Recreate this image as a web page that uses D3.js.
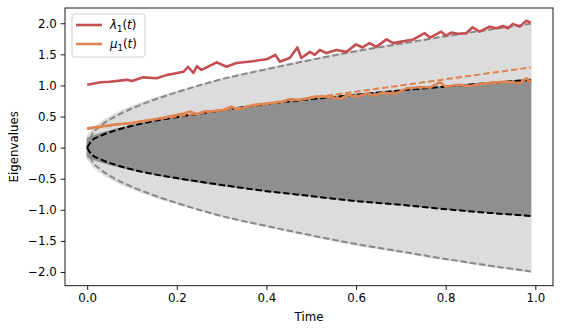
<!DOCTYPE html>
<html>
<head>
<meta charset="utf-8">
<script src="https://cdn.jsdelivr.net/npm/d3@7"></script>
<style>
  body { margin: 0; background: #fff; }
  svg { display: block; font-family: "DejaVu Sans", sans-serif; }
</style>
</head>
<body>
<div id="chart"></div>
<script>
// Time grid for the eigenvalue band and the smooth edge curves
const bandT = [0, 0.01, 0.03, 0.06, 0.1, 0.15, 0.2, 0.3, 0.4, 0.5, 0.6, 0.7, 0.8, 0.9, 0.99];
// Light gray band (all eigenvalue paths)
const lightUpper = [0.17, 0.27, 0.40, 0.53, 0.66, 0.79, 0.90, 1.10, 1.27, 1.42, 1.56, 1.68, 1.80, 1.90, 1.97];
const lightLower = [-0.17, -0.27, -0.40, -0.53, -0.66, -0.79, -0.90, -1.10, -1.27, -1.42, -1.56, -1.68, -1.80, -1.91, -2.00];
// Dark gray band (inner paths)
const darkUpper = [0.15, 0.18, 0.23, 0.29, 0.36, 0.43, 0.50, 0.61, 0.70, 0.78, 0.86, 0.92, 0.99, 1.05, 1.10];
const darkLower = [-0.15, -0.18, -0.23, -0.29, -0.36, -0.43, -0.50, -0.61, -0.70, -0.78, -0.86, -0.92, -0.99, -1.05, -1.10];
// Gray dashed outer edge and black dashed inner edge
const outerEdgeUp = [0, 0.20, 0.35, 0.49, 0.63, 0.77, 0.89, 1.10, 1.26, 1.41, 1.55, 1.67, 1.79, 1.90, 1.99];
const outerEdgeDown = [0, -0.20, -0.35, -0.49, -0.63, -0.77, -0.89, -1.10, -1.26, -1.41, -1.55, -1.67, -1.79, -1.90, -1.99];
const innerEdgeUp = [0, 0.11, 0.19, 0.27, 0.35, 0.43, 0.49, 0.60, 0.70, 0.78, 0.85, 0.92, 0.98, 1.04, 1.09];
const innerEdgeDown = [0, -0.11, -0.19, -0.27, -0.35, -0.43, -0.49, -0.60, -0.70, -0.78, -0.86, -0.92, -0.99, -1.05, -1.10];

// lambda_1(t): top eigenvalue (red)
const lambdaT = [0, 0.03, 0.05, 0.088, 0.1, 0.125, 0.155, 0.178, 0.19, 0.215, 0.225, 0.237, 0.245, 0.255, 0.289, 0.311,
  0.333, 0.37, 0.40, 0.42, 0.43, 0.452, 0.469, 0.478, 0.497, 0.508, 0.519, 0.534, 0.556, 0.579, 0.60, 0.614, 0.63,
  0.645, 0.668, 0.683, 0.698, 0.728, 0.753, 0.765, 0.79, 0.80, 0.813, 0.827, 0.846, 0.86, 0.876, 0.898, 0.913,
  0.928, 0.939, 0.95, 0.965, 0.98, 0.99];
const lambdaV = [1.01, 1.05, 1.06, 1.09, 1.07, 1.13, 1.115, 1.17, 1.185, 1.22, 1.30, 1.20, 1.31, 1.25, 1.37, 1.30,
  1.36, 1.39, 1.42, 1.49, 1.38, 1.44, 1.61, 1.44, 1.54, 1.49, 1.57, 1.52, 1.57, 1.54, 1.66, 1.61, 1.68,
  1.62, 1.74, 1.68, 1.70, 1.74, 1.84, 1.77, 1.865, 1.80, 1.85, 1.83, 1.84, 1.935, 1.865, 1.945, 1.92,
  1.955, 1.92, 1.99, 1.945, 2.04, 2.01];

// mu_1(t): top eigenvalue of the inner block (orange)
const muT = [0, 0.03, 0.066, 0.096, 0.118, 0.14, 0.17, 0.2, 0.215, 0.23, 0.245, 0.26, 0.282, 0.304, 0.322, 0.333,
  0.345, 0.37, 0.40, 0.436, 0.452, 0.474, 0.51, 0.54, 0.564, 0.582, 0.60, 0.627, 0.638, 0.66, 0.683, 0.698,
  0.713, 0.742, 0.765, 0.787, 0.80, 0.83, 0.853, 0.876, 0.905, 0.935, 0.965, 0.98, 0.99];
const muV = [0.31, 0.34, 0.375, 0.39, 0.42, 0.445, 0.48, 0.525, 0.55, 0.58, 0.535, 0.58, 0.59, 0.605, 0.66, 0.615,
  0.63, 0.685, 0.71, 0.74, 0.78, 0.765, 0.82, 0.82, 0.78, 0.85, 0.82, 0.875, 0.835, 0.885, 0.865, 0.90,
  0.955, 0.97, 0.97, 1.05, 0.98, 1.01, 0.99, 1.02, 1.045, 1.06, 1.035, 1.115, 1.045];
// Orange dashed trend for mu_1
const muTrendT = [0, 0.99];
const muTrendV = [0.30, 1.29];

const xTicks = [0, 0.2, 0.4, 0.6, 0.8, 1.0];
const yTicks = [-2, -1.5, -1, -0.5, 0, 0.5, 1, 1.5, 2];

const W = 563, H = 333;
const plot = {left: 65, right: 553, top: 8, bottom: 285.7};
const fs = "11.8px";

const svg = d3.select("#chart").append("svg")
    .attr("width", W).attr("height", H);

const x = d3.scaleLinear().domain([-0.0495, 1.0395]).range([plot.left, plot.right]);
const y = d3.scaleLinear().domain([-2.22, 2.245]).range([plot.bottom, plot.top]);

svg.append("defs").append("clipPath").attr("id", "clip")
  .append("rect")
    .attr("x", plot.left).attr("y", plot.top)
    .attr("width", plot.right - plot.left).attr("height", plot.bottom - plot.top);

const g = svg.append("g").attr("clip-path", "url(#clip)");

// Bands
const band = (up, lo) => d3.area()
    .x((d, i) => x(bandT[i]))
    .y0((d, i) => y(lo[i]))
    .y1((d, i) => y(up[i]))
    .curve(d3.curveMonotoneX)(bandT);

g.append("path").attr("d", band(lightUpper, lightLower)).attr("fill", "#dcdcdc")
  .attr("stroke", "#dcdcdc").attr("stroke-width", 1.5).attr("stroke-linejoin", "round");
g.append("path").attr("d", band(darkUpper, darkLower)).attr("fill", "#8f8f8f")
  .attr("stroke", "#8f8f8f").attr("stroke-width", 1).attr("stroke-linejoin", "round");

const lineOf = (ts, vs, curve) => d3.line()
    .x((d, i) => x(ts[i]))
    .y((d, i) => y(vs[i]))
    .curve(curve || d3.curveLinear)(ts);

// Dashed edges
[outerEdgeUp, outerEdgeDown].forEach(v => {
  g.append("path").attr("d", lineOf(bandT, v, d3.curveMonotoneX))
    .attr("fill", "none").attr("stroke", "#888").attr("stroke-width", 2)
    .attr("stroke-dasharray", "6.5,2.8");
});
[innerEdgeUp, innerEdgeDown].forEach(v => {
  g.append("path").attr("d", lineOf(bandT, v, d3.curveMonotoneX))
    .attr("fill", "none").attr("stroke", "#000").attr("stroke-width", 2)
    .attr("stroke-dasharray", "6.5,2.8");
});

g.append("path").attr("d", lineOf(muTrendT, muTrendV))
  .attr("fill", "none").attr("stroke", "#dd8452").attr("stroke-width", 2)
  .attr("stroke-dasharray", "6.5,2.8");

// lambda_1 and mu_1 paths
g.append("path").attr("d", lineOf(lambdaT, lambdaV))
  .attr("fill", "none").attr("stroke", "#c44e52").attr("stroke-width", 2.6)
  .attr("stroke-linejoin", "round");
g.append("path").attr("d", lineOf(muT, muV))
  .attr("fill", "none").attr("stroke", "#dd8452").attr("stroke-width", 2.6)
  .attr("stroke-linejoin", "round");

// Axes
const xAxis = svg.append("g")
    .attr("transform", `translate(0,${plot.bottom})`)
    .call(d3.axisBottom(x).tickValues(xTicks).tickFormat(d3.format(".1f")).tickSizeOuter(0).tickSize(4.3).tickPadding(4));
const yAxis = svg.append("g")
    .attr("transform", `translate(${plot.left},0)`)
    .call(d3.axisLeft(y).tickValues(yTicks).tickFormat(d3.format(".1f")).tickSizeOuter(0).tickSize(4.3).tickPadding(4));

[xAxis, yAxis].forEach(a => {
  a.select(".domain").remove();
  a.selectAll("text").attr("fill", "#000").style("font-size", fs).style("font-family", "DejaVu Sans");
  a.selectAll("line").attr("stroke", "#000").attr("stroke-width", 0.9);
});
yAxis.selectAll("text").text(d => d < 0 ? "\u2212" + d3.format(".1f")(-d) : d3.format(".1f")(d));

// Frame
svg.append("rect")
  .attr("x", plot.left).attr("y", plot.top)
  .attr("width", plot.right - plot.left).attr("height", plot.bottom - plot.top)
  .attr("fill", "none").attr("stroke", "#000").attr("stroke-width", 0.9);

// Axis labels
svg.append("text")
  .attr("x", (plot.left + plot.right) / 2).attr("y", 321)
  .attr("text-anchor", "middle").style("font-size", fs)
  .text("Time");
svg.append("text")
  .attr("transform", `translate(18,${(plot.top + plot.bottom) / 2}) rotate(-90)`)
  .attr("text-anchor", "middle").style("font-size", fs)
  .text("Eigenvalues");

// Legend
const leg = svg.append("g");
leg.append("rect")
  .attr("x", 72).attr("y", 14).attr("width", 73).attr("height", 43).attr("rx", 2.5)
  .attr("fill", "#fff").attr("fill-opacity", 0.8)
  .attr("stroke", "#ccc").attr("stroke-width", 0.9);

const legendItems = [
  {sym: "\u03bb", color: "#c44e52", yy: 25},
  {sym: "\u03bc", color: "#dd8452", yy: 44}
];
legendItems.forEach(it => {
  leg.append("line")
    .attr("x1", 76).attr("x2", 102).attr("y1", it.yy).attr("y2", it.yy)
    .attr("stroke", it.color).attr("stroke-width", 2.6);
  const t = leg.append("text").attr("x", 110).attr("y", it.yy + 4.3).style("font-size", fs);
  t.append("tspan").attr("font-style", "italic").text(it.sym);
  t.append("tspan").attr("dy", 2.5).style("font-size", "8.5px").text("1");
  t.append("tspan").attr("dy", -2.5).text("(");
  t.append("tspan").attr("font-style", "italic").text("t");
  t.append("tspan").text(")");
});
</script>
</body>
</html>
